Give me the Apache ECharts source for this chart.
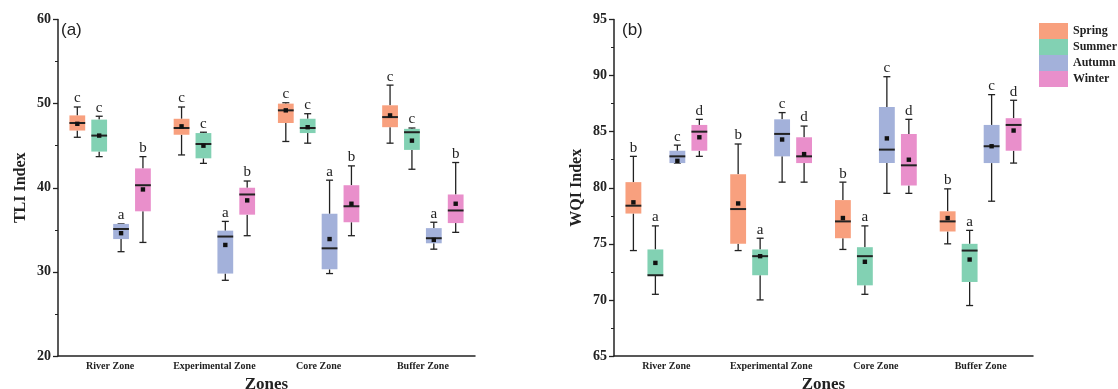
<!DOCTYPE html>
<html><head><meta charset="utf-8">
<script src="https://cdn.jsdelivr.net/npm/echarts@6/dist/echarts.min.js"></script>
<style>html,body{margin:0;padding:0;background:#fff}#c{width:1118px;height:389px}</style>
</head><body><div id="c"></div>
<script>
const categories = ['River Zone', 'Experimental Zone', 'Core Zone', 'Buffer Zone'];
const seasons = ['Spring', 'Summer', 'Autumn', 'Winter'];
const seasonColors = ['#F8A07E', '#82D1B3', '#A3B1DA', '#E98FCB'];

// each row: [min, Q1, median, Q3, max, mean] for River, Experimental, Core, Buffer
const tliSpring = [[46.0, 46.8, 47.7, 48.6, 49.6, 47.6], [43.9, 46.3, 47.1, 48.2, 49.6, 47.3], [45.5, 47.7, 49.2, 50.0, 50.1, 49.2], [45.3, 47.2, 48.4, 49.8, 52.2, 48.6]];
const tliSummer = [[43.7, 44.3, 46.2, 48.1, 48.5, 46.2], [42.9, 43.5, 45.2, 46.5, 46.6, 45.0], [45.3, 46.5, 47.1, 48.2, 48.8, 47.2], [42.2, 44.5, 46.6, 47.0, 47.1, 45.6]];
const tliAutumn = [[32.4, 33.9, 35.1, 35.7, 35.7, 34.6], [29.0, 29.8, 34.2, 34.9, 36.0, 33.2], [29.8, 30.3, 32.8, 36.9, 40.9, 33.9], [32.7, 33.4, 34.0, 35.2, 35.9, 33.8]];
const tliWinter = [[33.5, 37.2, 40.3, 42.3, 43.7, 39.8], [34.3, 36.8, 39.2, 40.0, 40.8, 38.5], [34.3, 35.9, 37.8, 40.3, 42.6, 38.1], [34.7, 35.8, 37.3, 39.2, 43.0, 38.1]];

const wqiSpring = [[74.4, 77.7, 78.4, 80.5, 82.8, 78.7], [74.4, 75.0, 78.1, 81.2, 83.9, 78.6], [74.5, 75.5, 77.0, 78.9, 80.5, 77.3], [75.0, 76.1, 77.0, 77.9, 79.9, 77.3]];
const wqiSummer = [[70.5, 72.2, 72.2, 74.5, 76.6, 73.3], [70.0, 72.2, 73.9, 74.5, 75.5, 73.9], [70.5, 71.3, 73.9, 74.7, 76.6, 73.4], [69.5, 71.6, 74.4, 75.0, 76.2, 73.6]];
const wqiAutumn = [[82.2, 82.2, 82.8, 83.3, 83.8, 82.4], [80.5, 82.8, 84.8, 86.1, 86.7, 84.3], [79.5, 82.2, 83.4, 87.2, 89.9, 84.4], [78.8, 82.2, 83.7, 85.6, 88.3, 83.7]];
const wqiWinter = [[82.8, 83.3, 85.0, 85.6, 86.1, 84.5], [80.5, 82.2, 82.8, 84.5, 85.5, 83.0], [79.5, 80.2, 82.0, 84.8, 86.1, 82.5], [82.2, 83.3, 85.6, 86.2, 87.8, 85.1]];

// significance letters, per season, per zone
const tliLetters = [['c', 'c', 'c', 'c'], ['c', 'c', 'c', 'c'], ['a', 'a', 'a', 'a'], ['b', 'b', 'b', 'b']];
const wqiLetters = [['b', 'b', 'b', 'b'], ['a', 'a', 'a', 'a'], ['c', 'c', 'c', 'c'], ['d', 'd', 'd', 'd']];

const tliAxis = [20, 60, 10];   // min, max, interval
const wqiAxis = [65, 95, 5];

const SERIF = '"Liberation Serif", "Times New Roman", serif';
const INK = '#222';

function makeRender(sIdx, letters, color) {
  return function (params, api) {
    const i = api.value(0);
    const band = api.size([1, 0])[0];
    const avail = band * 0.8 - 2;
    const gap = avail / 4 * 0.3;
    const w = (avail - gap * 3) / 4;
    const off = w / 2 - avail / 2 + sIdx * (gap + w);
    const cx = api.coord([i, 0])[0] + off;
    const y = k => api.coord([i, api.value(k)])[1];
    const yMin = y(1), yQ1 = y(2), yMed = y(3), yQ3 = y(4), yMax = y(5), yMean = y(6);
    const cap = 3.5;
    const st = { stroke: INK, lineWidth: 1.3 };
    return {
      type: 'group',
      children: [
        { type: 'line', shape: { x1: cx, y1: yMax, x2: cx, y2: yQ3 }, style: st },
        { type: 'line', shape: { x1: cx, y1: yQ1, x2: cx, y2: yMin }, style: st },
        { type: 'line', shape: { x1: cx - cap, y1: yMax, x2: cx + cap, y2: yMax }, style: st },
        { type: 'line', shape: { x1: cx - cap, y1: yMin, x2: cx + cap, y2: yMin }, style: st },
        { type: 'rect', shape: { x: cx - w / 2, y: yQ3, width: w, height: Math.max(yQ1 - yQ3, 1) }, style: { fill: color } },
        { type: 'line', shape: { x1: cx - w / 2, y1: yMed, x2: cx + w / 2, y2: yMed }, style: { stroke: INK, lineWidth: 2 } },
        { type: 'rect', shape: { x: cx - 2.2, y: yMean - 2.2, width: 4.4, height: 4.4 }, style: { fill: '#111' } },
        { type: 'text', x: cx, y: yMax - 1, style: { text: letters[params.dataIndex], font: '15px ' + SERIF, fill: INK, textAlign: 'center', textVerticalAlign: 'bottom' } }
      ]
    };
  };
}

const tliSets = [tliSpring, tliSummer, tliAutumn, tliWinter];
const wqiSets = [wqiSpring, wqiSummer, wqiAutumn, wqiWinter];

const series = [];
seasons.forEach((s, k) => {
  series.push({
    name: s, type: 'custom', xAxisIndex: 0, yAxisIndex: 0,
    itemStyle: { color: seasonColors[k] },
    encode: { x: 0, y: [1, 2, 3, 4, 5, 6] },
    data: tliSets[k].map((r, i) => [i].concat(r)),
    renderItem: makeRender(k, tliLetters[k], seasonColors[k])
  });
  series.push({
    name: s, type: 'custom', xAxisIndex: 1, yAxisIndex: 1,
    itemStyle: { color: seasonColors[k] },
    encode: { x: 0, y: [1, 2, 3, 4, 5, 6] },
    data: wqiSets[k].map((r, i) => [i].concat(r)),
    renderItem: makeRender(k, wqiLetters[k], seasonColors[k])
  });
});

function xAxisCfg(gi) {
  return {
    type: 'category', gridIndex: gi, data: categories,
    name: 'Zones', nameLocation: 'middle', nameGap: 14,
    nameTextStyle: { fontFamily: SERIF, fontWeight: 'bold', fontSize: 17, color: INK },
    axisLine: { lineStyle: { color: INK, width: 1.5 } },
    axisTick: { alignWithLabel: true, inside: true, length: 5, lineStyle: { color: INK, width: 1.3 } },
    axisLabel: { interval: 0, fontFamily: SERIF, fontWeight: 'bold', fontSize: 10, color: INK, margin: 5 },
    splitLine: { show: false }
  };
}
function yAxisCfg(gi, ax, name) {
  return {
    type: 'value', gridIndex: gi, min: ax[0], max: ax[1], interval: ax[2],
    name: name, nameLocation: 'middle', nameGap: 29,
    nameTextStyle: { fontFamily: SERIF, fontWeight: 'bold', fontSize: 16, color: INK },
    axisLine: { show: true, lineStyle: { color: INK, width: 1.5 } },
    axisTick: { show: true, length: 5, lineStyle: { color: INK, width: 1.3 } },
    minorTick: { show: true, splitNumber: 2, length: 3, lineStyle: { color: INK, width: 1 } },
    axisLabel: { fontFamily: SERIF, fontWeight: 'bold', fontSize: 14, color: INK, margin: 7 },
    splitLine: { show: false }
  };
}

const option = {
  animation: false,
  backgroundColor: '#fff',
  grid: [
    { left: 58, right: 643, top: 19.5, bottom: 33, outerBoundsMode: 'none', containLabel: false },
    { left: 614, right: 85, top: 19.5, bottom: 33, outerBoundsMode: 'none', containLabel: false }
  ],
  xAxis: [xAxisCfg(0), xAxisCfg(1)],
  yAxis: [yAxisCfg(0, tliAxis, 'TLI Index'), yAxisCfg(1, wqiAxis, 'WQI Index')],
  legend: {
    data: seasons, orient: 'vertical', left: 1039, top: 23, padding: 0,
    itemWidth: 29, itemHeight: 16, itemGap: 0, icon: 'rect',
    textStyle: { fontFamily: SERIF, fontWeight: 'bold', fontSize: 12, color: INK }
  },
  graphic: [
    { type: 'text', left: 61, top: 22, style: { text: '(a)', font: '17px "Liberation Sans", Arial, sans-serif', fill: INK } },
    { type: 'text', left: 622, top: 22, style: { text: '(b)', font: '17px "Liberation Sans", Arial, sans-serif', fill: INK } }
  ],
  series: series
};

const chart = echarts.init(document.getElementById('c'), null, { renderer: 'canvas' });
chart.setOption(option);
</script>
</body></html>
